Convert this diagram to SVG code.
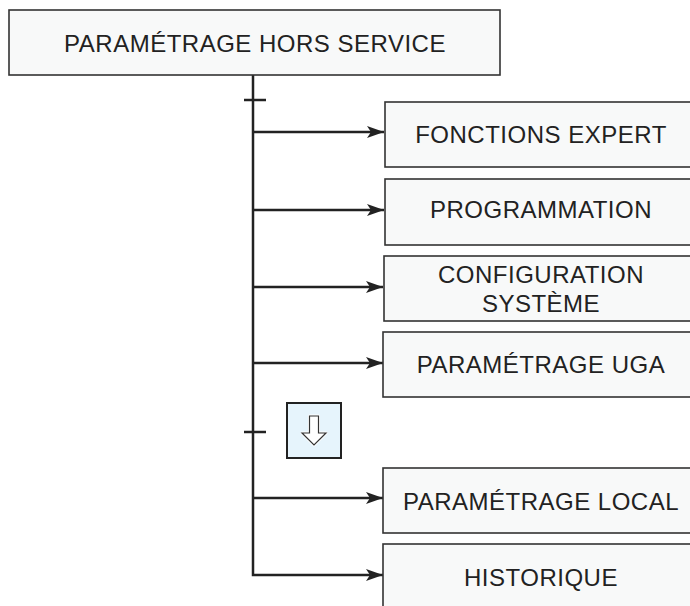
<svg xmlns="http://www.w3.org/2000/svg" width="690" height="606" viewBox="0 0 690 606">
<defs>
<style>
.box{fill:#f8f9f9;stroke:#333;stroke-width:1.6}
.lbl{font-family:"Liberation Sans",Arial,sans-serif;font-size:24px;fill:#222;text-anchor:middle;letter-spacing:0.5px}
.ln{fill:none;stroke:#222;stroke-width:2.5}
</style>
<marker id="ah" markerWidth="18" markerHeight="14" refX="17" refY="6" orient="auto" markerUnits="userSpaceOnUse">
<path d="M0,0 L17,6 L0,12 L4,6 Z" fill="#222"/>
</marker>
</defs>
<rect width="690" height="606" fill="#fff"/>
<g id="connectors">
<path class="ln" d="M253,75 V575 H383" marker-end="url(#ah)"/>
<line class="ln" x1="244" y1="100" x2="266" y2="100"/>
<line class="ln" x1="244" y1="432" x2="266" y2="432"/>
<line class="ln" x1="253" y1="132" x2="384" y2="132" marker-end="url(#ah)"/>
<line class="ln" x1="253" y1="210" x2="384" y2="210" marker-end="url(#ah)"/>
<line class="ln" x1="253" y1="287" x2="383" y2="287" marker-end="url(#ah)"/>
<line class="ln" x1="253" y1="363" x2="383" y2="363" marker-end="url(#ah)"/>
<line class="ln" x1="253" y1="498" x2="383" y2="498" marker-end="url(#ah)"/>
</g>
<g id="n-root">
<rect class="box" x="9" y="10" width="491" height="65"/>
<text class="lbl" x="255" y="52">PARAMÉTRAGE HORS SERVICE</text>
</g>
<g id="n-expert">
<rect class="box" x="385" y="102" width="320" height="65"/>
<text class="lbl" x="541" y="143">FONCTIONS EXPERT</text>
</g>
<g id="n-prog">
<rect class="box" x="385" y="179" width="320" height="66"/>
<text class="lbl" x="541" y="218">PROGRAMMATION</text>
</g>
<g id="n-config">
<rect class="box" x="384" y="256" width="320" height="65"/>
<text class="lbl" x="541" y="283">CONFIGURATION</text>
<text class="lbl" x="541" y="312">SYSTÈME</text>
</g>
<g id="n-uga">
<rect class="box" x="383" y="332" width="320" height="65"/>
<text class="lbl" x="541" y="373">PARAMÉTRAGE UGA</text>
</g>
<g id="n-next">
<rect x="287" y="403" width="54" height="55" fill="#e6f4fc" stroke="#222" stroke-width="2"/>
<path d="M309.5,416 H318.5 V433 H326 L314,445 L302,433 H309.5 Z" fill="#fff" stroke="#fff" stroke-width="3" stroke-linejoin="round"/>
<path d="M309.5,416 H318.5 V433 H326 L314,445 L302,433 H309.5 Z" fill="#fff" stroke="#333" stroke-width="1.2"/>
</g>
<g id="n-local">
<rect class="box" x="383" y="468" width="320" height="65"/>
<text class="lbl" x="541" y="510">PARAMÉTRAGE LOCAL</text>
</g>
<g id="n-hist">
<rect class="box" x="383" y="544" width="320" height="70"/>
<text class="lbl" x="541" y="586">HISTORIQUE</text>
</g>
</svg>
